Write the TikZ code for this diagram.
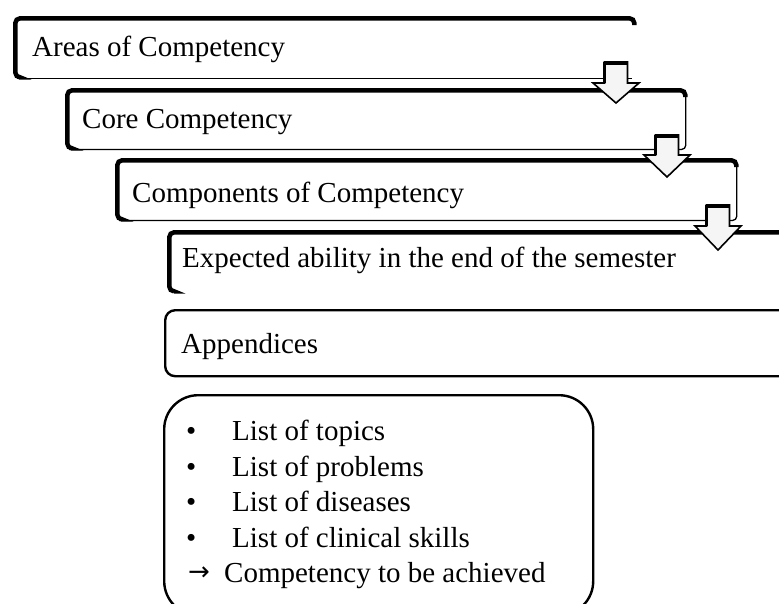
\documentclass[tikz,border=0pt]{standalone}
\usepackage{fontspec}
\setmainfont{Liberation Serif}
\newfontfamily\arrowfont{DejaVu Sans}
\begin{document}
\begin{tikzpicture}[x=1pt,y=-1pt,
  lbl/.style={anchor=base west, inner sep=0pt, font=\fontsize{29}{35}\selectfont},
  boxarea/.style={inner sep=0pt, anchor=north west, fill=white},
  thinedge/.style={line width=1.3pt},
  heavyedge/.style={line width=4.5pt, rounded corners=5pt},
  roundbox/.style={line width=2.4pt},
  blockarrow/.style={fill=gray!8, draw=black, line width=1.6pt, line join=miter}]
\useasboundingbox (0,0) rectangle (779,603);
\clip (0,0) rectangle (779,603);

% the four stepped boxes: heavy top and left edges, thin bottom and right edges
\node[boxarea, minimum width=622pt, minimum height=62pt] (b1) at (13,16) {};
\draw[thinedge, rounded corners=4pt] ([xshift=4pt]b1.south west) -- ([xshift=-3pt]b1.south east);
\draw[heavyedge] ([shift={(6pt,1pt)}]b1.south west) -- ([shift={(2.25pt,1pt)}]b1.south west)
  -- ([shift={(2.25pt,-2.25pt)}]b1.north west) -- ([shift={(-1pt,-2.25pt)}]b1.north east)
  -- ([shift={(-1pt,-9pt)}]b1.north east);

\node[boxarea, minimum width=621pt, minimum height=61pt] (b2) at (65,88) {};
\draw[thinedge, rounded corners=4pt] ([xshift=4pt]b2.south west) -- ([shift={(-0.7pt,0pt)}]b2.south east)
  -- ([shift={(-0.7pt,-8pt)}]b2.north east);
\draw[heavyedge] ([shift={(6pt,1pt)}]b2.south west) -- ([shift={(2.25pt,1pt)}]b2.south west)
  -- ([shift={(2.25pt,-2.25pt)}]b2.north west) -- ([shift={(-1pt,-2.25pt)}]b2.north east)
  -- ([shift={(-1pt,-9pt)}]b2.north east);

\node[boxarea, minimum width=622pt, minimum height=62pt] (b3) at (115,158) {};
\draw[thinedge, rounded corners=4pt] ([xshift=4pt]b3.south west) -- ([shift={(-0.7pt,0pt)}]b3.south east)
  -- ([shift={(-0.7pt,-8pt)}]b3.north east);
\draw[heavyedge] ([shift={(6pt,1pt)}]b3.south west) -- ([shift={(2.25pt,1pt)}]b3.south west)
  -- ([shift={(2.25pt,-2.25pt)}]b3.north west) -- ([shift={(-1pt,-2.25pt)}]b3.north east)
  -- ([shift={(-1pt,-9pt)}]b3.north east);

\node[boxarea, minimum width=640pt, minimum height=62pt] (b4) at (167,230) {};
\draw[heavyedge] ([shift={(7pt,1pt)}]b4.south west) -- ([shift={(2.25pt,1pt)}]b4.south west)
  -- ([shift={(2.25pt,-2.25pt)}]b4.north west) -- ([shift={(0pt,-2.25pt)}]b4.north east);

% labels of the stepped boxes
\node[lbl] (t1) at (32,56) {Areas of Competency};
\node[lbl] (t2) at (82,128) {Core Competency};
\node[lbl] (t3) at (132,202) {Components of Competency};
\node[lbl] (t4) at (182,267) {Expected ability in the end of the semester};

% downward block arrows between the stepped boxes:
% #1 name, #2 centre x, #3 top of shaft, #4 start of head, #5 tip
\newcommand{\downblock}[5]{%
  \coordinate (#1) at (#2,#5);
  \draw[blockarrow] ({#2-11.5},#3) -- ({#2+11.5},#3) -- ({#2+11.5},#4) -- ({#2+23},#4)
    -- (#1) -- ({#2-23},#4) -- ({#2-11.5},#4) -- cycle;
  \draw[line width=3.2pt] ({#2-11.5},#4) -- ({#2-11.5},{#3+1.5}) -- ({#2+11.5},{#3+1.5});}
\downblock{a1}{616}{62}{83}{103}
\downblock{a2}{667}{135}{155}{177}
\downblock{a3}{718}{205}{226}{250}

% appendices box
\node[inner sep=0pt, anchor=north west, minimum width=640pt, minimum height=66pt,
  draw, roundbox, rounded corners=10pt] (b5) at (164,309) {};
\node[lbl] (t5) at (181,353) {Appendices};

% list of appendices
\node[inner sep=0pt, anchor=north west, minimum width=429pt, minimum height=220pt,
  draw, roundbox, rounded corners=34pt] (b6) at (163,394) {};
\node[lbl] (d1) at (186,440) {•};
\node[lbl] (l1) at (232,440) {List of topics};
\node[lbl] (d2) at (186,476) {•};
\node[lbl] (l2) at (232,476) {List of problems};
\node[lbl] (d3) at (186,511) {•};
\node[lbl] (l3) at (232,511) {List of diseases};
\node[lbl] (d4) at (186,547) {•};
\node[lbl] (l4) at (232,547) {List of clinical skills};
\node[lbl, font=\arrowfont\fontsize{26}{30}\selectfont] (r5) at (188,580) {→};
\node[lbl] (l5) at (224,582) {Competency to be achieved};
\end{tikzpicture}
\end{document}
